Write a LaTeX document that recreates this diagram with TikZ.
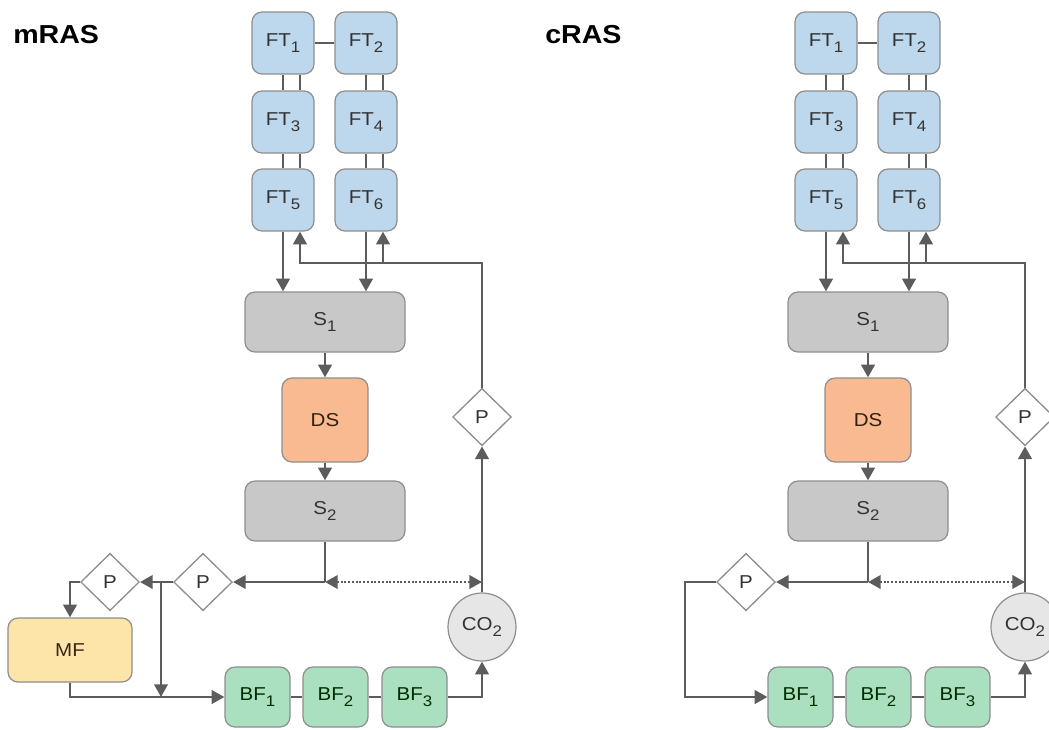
\documentclass[tikz,border=0pt]{standalone}
\usepackage{fontspec}
\setmainfont[FakeStretch=1.1]{Liberation Sans}
\usetikzlibrary{arrows.meta,calc,shapes.geometric}
\definecolor{linegray}{HTML}{5C5C5C}
\definecolor{boxline}{HTML}{8E8E8E}
\definecolor{ftblue}{HTML}{BDD7EC}
\definecolor{sepgray}{HTML}{C8C8C8}
\definecolor{dsorange}{HTML}{F9B991}
\definecolor{mfyellow}{HTML}{FDE4A8}
\definecolor{bfgreen}{HTML}{AADFBF}
\definecolor{cogray}{HTML}{E6E6E6}
\definecolor{txtgray}{HTML}{333333}
\newcommand\idx[1]{\raisebox{-0.55ex}{\fontsize{11.5}{12}\selectfont #1}}

\begin{document}
\begin{tikzpicture}[x=0.75pt,y=-0.75pt,>={Triangle[length=9.5pt,width=10pt]},
 font=\fontsize{14}{16}\selectfont,
 box/.style={draw=boxline,line width=0.9pt,rounded corners=7.5pt,inner sep=0pt,text=txtgray},
 tank/.style={box,fill=ftblue,minimum width=46.5pt,minimum height=46.5pt},
 sepbox/.style={box,fill=sepgray,minimum width=120pt,minimum height=45pt},
 dsbox/.style={box,fill=dsorange,minimum width=64.5pt,minimum height=63pt,text=black!75!brown},
 mfbox/.style={box,fill=mfyellow,minimum width=93pt,minimum height=48pt,text=black!70!brown},
 bfbox/.style={box,fill=bfgreen,minimum width=48.75pt,minimum height=45pt,text=black!70!green!60!black},
 valve/.style={diamond,draw=boxline,line width=1pt,fill=white,minimum width=44pt,minimum height=43pt,inner sep=0pt,text=txtgray},
 gas/.style={circle,draw=boxline,line width=0.9pt,fill=cogray,minimum size=51pt,inner sep=0pt,text=txtgray},
 title/.style={font=\fontsize{19.5}{22}\selectfont\bfseries,inner sep=0pt},
 link/.style={draw=linegray,line width=2pt},
 flow/.style={link,->,color=linegray},
 dots/.style={link,line width=2pt,dash pattern=on 1.5pt off 1.3pt,<->,color=linegray}]
\clip (0,0) rectangle (1049,729);
\node[title,anchor=base west] (labm) at (13,43) {mRAS};
\node[title,anchor=base west] (labc) at (545,43) {cRAS};
% common part of both systems
\foreach \dx/\t in {0/m,543/c}{
 \foreach \n/\x/\y in {1/283/43,2/366/43,3/283/122,4/366/122,5/283/200,6/366/200}
  \node[tank] (ft\n\t) at (\dx+\x,\y) {FT\idx{\n}};
 \draw[link] (ft1\t) -- (ft2\t);
 \foreach \a/\b in {1/3,3/5,2/4,4/6}{
  \draw[link] (ft\a\t.south) -- (ft\b\t.north);
  \draw[link] ($(ft\a\t.south)+(17,0)$) -- ($(ft\b\t.north)+(17,0)$);
 }
 \node[sepbox] (s1\t) at (\dx+325,322) {S\idx{1}};
 \node[dsbox] (ds\t) at (\dx+325,420) {DS};
 \node[sepbox] (s2\t) at (\dx+325,511) {S\idx{2}};
 \node[valve] (pt\t) at (\dx+482,417) {P};
 \node[valve] (pa\t) at (\dx+203,582) {P};
 \node[gas] (co\t) at (\dx+482,627) {CO\idx{2}};
 \foreach \n/\x in {1/257.5,2/335.5,3/414.5}
  \node[bfbox] (bf\n\t) at (\dx+\x,697) {BF\idx{\n}};
 \draw[link] (bf1\t) -- (bf2\t);
 \draw[link] (bf2\t) -- (bf3\t);
 % flows
 \draw[flow] (ft5\t.south) -- (ft5\t.south |- s1\t.north);
 \draw[flow] (ft6\t.south) -- (ft6\t.south |- s1\t.north);
 \coordinate (up5\t) at (\dx+300,263);
 \coordinate (up6\t) at (\dx+383,263);
 \draw[flow] (pt\t.north) |- (up5\t) -- (up5\t |- ft5\t.south);
 \draw[flow] (up6\t) -- (up6\t |- ft6\t.south);
 \draw[flow] (s1\t) -- (ds\t);
 \draw[flow] (ds\t) -- (s2\t);
 \coordinate (sp\t) at (\dx+325,582);
 \draw[link] (s2\t.south) -- (sp\t);
 \draw[flow] (sp\t) -- (pa\t.east);
 \draw[dots] (sp\t) -- (sp\t -| co\t.north);
 \draw[flow] (co\t.north) -- (pt\t.south);
 \draw[flow] (bf3\t.east) -| (co\t.south);
}
% mRAS: membrane filter loop
\node[valve] (pbm) at (110,582) {P};
\node[mfbox] (mf) at (70,650) {MF};
\draw[flow] (pam.west) -- (pbm.east);
\coordinate (brm) at (161,582);
\draw[flow] (brm) -- (brm |- bf1m.west);
\draw[flow] (pbm.west) -| (mf.north);
\draw[flow] (mf.south) |- (bf1m.west);
% cRAS: direct return to the biofilters
\coordinate (loopc) at (685,582);
\draw[flow] (pac.west) -- (loopc) |- (bf1c.west);
\end{tikzpicture}
\end{document}
